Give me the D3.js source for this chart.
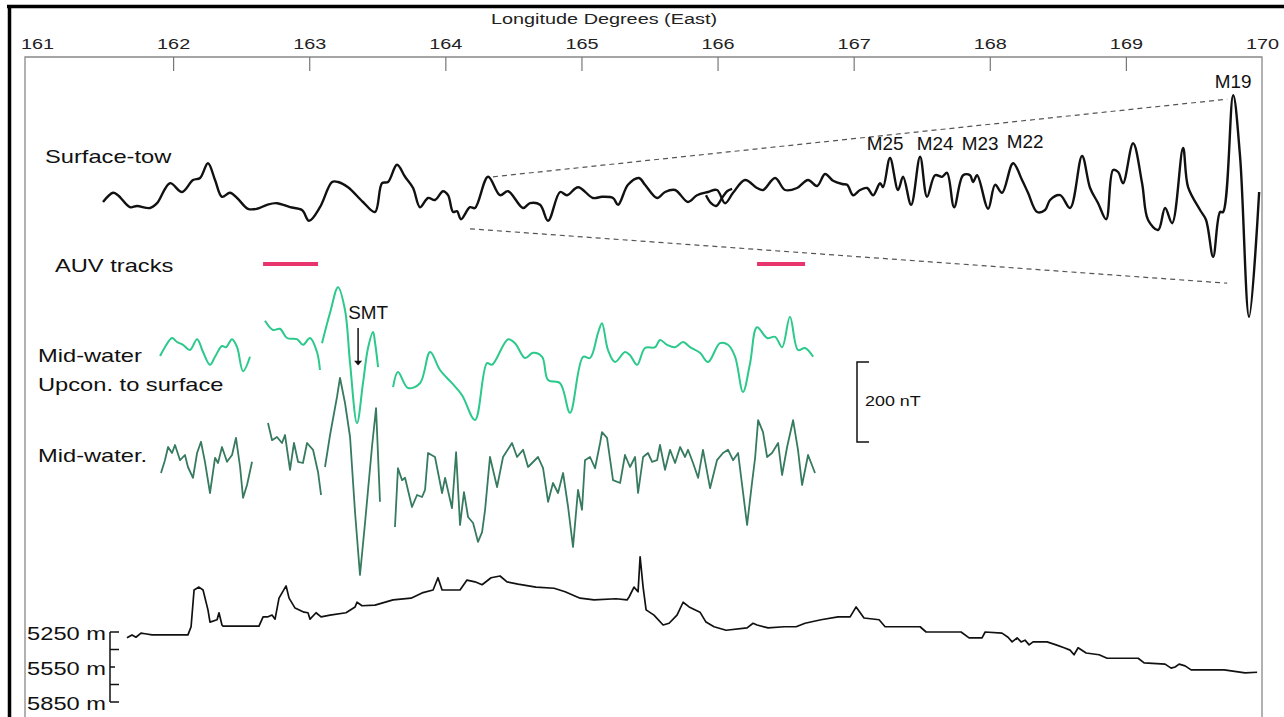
<!DOCTYPE html>
<html>
<head>
<meta charset="utf-8">
<script src="https://cdn.jsdelivr.net/npm/d3@7"></script>
<style>
body { margin: 0; background: #fff; }
svg { display: block; font-family: "Liberation Sans", Arial, sans-serif; }
</style>
</head>
<body>
<svg id="chart" width="1284" height="717"></svg>
<script>
// longitude ticks along the top
var lonTicks = [161, 162, 163, 164, 165, 166, 167, 168, 169, 170];

// surface-tow magnetic anomaly, [longitude, nT]
var surfaceTow = [
[161.485,-5],[161.558,18],[161.595,12],[161.683,-18],[161.735,-15],[161.830,-20],[161.882,-8],[161.977,42],[162.065,20],[162.146,50],[162.198,55],[162.256,92],[162.308,50],[162.359,8],[162.418,18],[162.470,5],[162.550,-22],[162.616,-22],[162.690,-12],[162.763,-8],[162.859,-18],[162.947,-25],[162.999,-52],[163.079,-18],[163.168,45],[163.212,45],[163.285,32],[163.395,-5],[163.483,-30],[163.535,42],[163.579,45],[163.645,88],[163.704,58],[163.763,30],[163.814,-18],[163.873,5],[163.924,0],[163.983,22],[164.020,12],[164.057,-30],[164.086,-28],[164.115,-48],[164.181,-18],[164.218,-20],[164.314,58],[164.402,12],[164.461,22],[164.571,-20],[164.622,-8],[164.696,-12],[164.755,-52],[164.843,20],[164.894,12],[164.975,32],[165.085,5],[165.151,8],[165.232,5],[165.269,-12],[165.342,38],[165.423,55],[165.467,38],[165.556,5],[165.614,20],[165.688,25],[165.783,-5],[165.849,12],[165.930,20],[165.996,25],[166.055,-8],[166.114,18],[166.202,50],[166.290,30],[166.334,25],[166.423,55],[166.496,25],[166.584,30],[166.665,50],[166.731,35],[166.790,65],[166.849,48],[166.915,40],[166.952,38],[166.996,12],[167.047,25],[167.099,30],[167.143,12],[167.194,42],[167.216,32],[167.267,105],[167.326,25],[167.363,58],[167.422,-12],[167.488,108],[167.539,8],[167.598,62],[167.650,58],[167.686,68],[167.738,-18],[167.804,62],[167.855,62],[167.877,45],[167.907,62],[167.988,-22],[168.039,38],[168.090,18],[168.171,92],[168.237,50],[168.281,18],[168.348,-30],[168.406,-25],[168.443,0],[168.517,12],[168.590,-20],[168.678,110],[168.737,30],[168.796,-8],[168.855,-48],[168.906,75],[168.943,70],[168.979,42],[169.053,142],[169.119,42],[169.163,-50],[169.237,-75],[169.288,-20],[169.340,-58],[169.420,130],[169.457,32],[169.545,-25],[169.589,-50],[169.641,-142],[169.692,-30],[169.714,-30],[169.788,262],[169.839,108],[169.905,-292],[169.979,20]
];

// short second pass of the surface-tow near 166 E
var surfaceTowRepeat = [[165.915,12],[165.952,-8],[165.989,-15],[166.033,5],[166.070,22],[166.107,28]];

// mid-water data upward continued to the surface, four pieces
var upconSegments = [
[[161.904,10],[161.940,32],[161.992,55],[162.029,45],[162.073,38],[162.124,25],[162.176,52],[162.220,20],[162.271,-12],[162.308,8],[162.359,35],[162.389,32],[162.433,52],[162.470,32],[162.514,-28],[162.565,8]],
[[162.675,98],[162.734,75],[162.785,78],[162.837,55],[162.910,52],[162.954,38],[163.006,55],[163.057,20],[163.079,-25]],
[[163.094,42],[163.153,118],[163.212,182],[163.263,125],[163.300,-8],[163.351,-158],[163.395,-58],[163.432,30],[163.469,70],[163.483,45],[163.506,-18]],
[[163.616,-68],[163.652,-30],[163.726,-70],[163.814,-58],[163.888,20],[163.961,-25],[164.049,-58],[164.123,-88],[164.218,-150],[164.306,-8],[164.343,-12],[164.461,52],[164.512,42],[164.586,5],[164.644,18],[164.711,8],[164.755,-50],[164.843,-58],[164.916,-132],[165.012,8],[165.063,5],[165.122,68],[165.151,92],[165.195,25],[165.247,-5],[165.320,20],[165.357,12],[165.409,-12],[165.467,30],[165.541,32],[165.577,50],[165.629,38],[165.688,32],[165.747,45],[165.798,32],[165.871,18],[165.930,-5],[166.018,42],[166.077,38],[166.129,8],[166.187,-80],[166.239,-8],[166.290,82],[166.364,55],[166.423,58],[166.474,32],[166.532,108],[166.591,25],[166.643,30],[166.702,8]]
];

// mid-water data, four pieces
var midwaterSegments = [
[[161.911,-20],[161.940,12],[161.963,45],[161.992,30],[162.014,50],[162.051,12],[162.087,25],[162.109,-5],[162.146,-32],[162.176,30],[162.205,58],[162.234,8],[162.271,-70],[162.308,18],[162.330,5],[162.359,45],[162.396,8],[162.433,25],[162.462,68],[162.492,-5],[162.514,-82],[162.543,-50],[162.580,8]],
[[162.697,105],[162.727,62],[162.763,70],[162.800,55],[162.822,75],[162.859,-12],[162.888,55],[162.918,8],[162.954,5],[162.984,55],[163.028,38],[163.065,-18],[163.087,-75]],
[[163.116,-5],[163.153,75],[163.204,170],[163.226,218],[163.263,155],[163.300,70],[163.337,-120],[163.373,-275],[163.410,-145],[163.461,45],[163.491,142],[163.520,-92]],
[[163.630,-155],[163.652,-8],[163.682,-38],[163.704,-32],[163.755,-105],[163.792,-75],[163.829,-80],[163.851,-62],[163.873,30],[163.924,20],[163.976,-70],[163.998,-32],[164.049,-108],[164.079,32],[164.108,-150],[164.137,-68],[164.167,-130],[164.204,-145],[164.240,-192],[164.270,-168],[164.292,-112],[164.328,20],[164.380,-55],[164.424,20],[164.490,55],[164.527,20],[164.571,38],[164.608,-5],[164.681,20],[164.718,-8],[164.755,-92],[164.791,-45],[164.828,-70],[164.865,-20],[164.902,-105],[164.938,-205],[164.975,-62],[165.004,-112],[165.026,12],[165.063,20],[165.100,-8],[165.137,55],[165.151,82],[165.188,68],[165.232,-38],[165.284,-45],[165.320,25],[165.357,-5],[165.394,20],[165.416,-70],[165.453,20],[165.489,30],[165.519,8],[165.556,12],[165.577,50],[165.614,-12],[165.651,38],[165.688,5],[165.725,45],[165.761,20],[165.783,38],[165.820,5],[165.857,-32],[165.893,38],[165.945,-58],[165.996,12],[166.040,30],[166.077,38],[166.114,12],[166.151,30],[166.217,-150],[166.254,-42],[166.276,18],[166.298,112],[166.334,82],[166.364,20],[166.400,30],[166.445,55],[166.474,-25],[166.511,45],[166.555,112],[166.591,38],[166.621,-50],[166.665,25],[166.716,-20]]
];

// bathymetry, [longitude, depth in m]
var bathymetry = [
[161.661,5300],[161.698,5275],[161.727,5295],[161.764,5260],[161.794,5265],[161.845,5275],[162.109,5275],[162.132,5205],[162.154,4890],[162.190,4865],[162.220,4890],[162.256,5060],[162.271,5165],[162.323,5145],[162.337,5085],[162.359,5190],[162.367,5200],[162.631,5200],[162.661,5120],[162.697,5120],[162.727,5105],[162.749,5140],[162.778,4960],[162.830,4855],[162.852,4960],[162.896,5045],[162.962,5080],[162.991,5085],[163.006,5140],[163.050,5085],[163.087,5120],[163.153,5105],[163.270,5085],[163.337,5035],[163.351,4995],[163.388,5025],[163.483,5020],[163.616,4975],[163.748,4960],[163.829,4915],[163.910,4890],[163.946,4785],[163.976,4890],[164.108,4890],[164.159,4805],[164.218,4820],[164.270,4845],[164.336,4785],[164.402,4770],[164.453,4820],[164.534,4840],[164.666,4865],[164.799,4875],[164.880,4905],[164.990,4960],[165.093,4975],[165.254,4965],[165.335,4975],[165.350,4950],[165.386,4865],[165.416,4905],[165.431,4605],[165.453,4865],[165.475,5060],[165.533,5105],[165.600,5190],[165.644,5175],[165.702,5105],[165.747,4995],[165.791,5035],[165.871,5080],[165.915,5165],[165.974,5205],[166.063,5235],[166.217,5215],[166.261,5175],[166.290,5190],[166.371,5215],[166.489,5205],[166.577,5205],[166.643,5175],[166.760,5145],[166.885,5120],[166.974,5120],[167.018,5035],[167.076,5130],[167.187,5145],[167.231,5205],[167.488,5205],[167.532,5250],[167.789,5250],[167.848,5300],[167.943,5300],[167.966,5250],[168.090,5260],[168.134,5295],[168.164,5335],[168.201,5300],[168.230,5335],[168.259,5320],[168.289,5360],[168.318,5335],[168.421,5335],[168.487,5360],[168.546,5385],[168.590,5405],[168.619,5445],[168.649,5385],[168.708,5430],[168.803,5445],[168.862,5475],[169.090,5475],[169.134,5515],[169.288,5525],[169.332,5560],[169.362,5550],[169.391,5525],[169.435,5540],[169.479,5575],[169.722,5575],[169.876,5600],[169.964,5595]
];

// AUV survey tracks, [start lon, end lon]
var auvTracks = [[162.661, 163.065], [166.290, 166.643]];

// dashed envelope on the surface-tow profile
var envelopeUpper = [[164.350, 58], [169.744, 252]];
var envelopeLower = [[164.181, -72], [169.744, -208]];

// magnetic anomaly picks, [name, lon, nT]
var anomalyLabels = [["M25", 167.231, 125], ["M24", 167.598, 125], ["M23", 167.929, 125], ["M22", 168.259, 130], ["M19", 169.788, 280]];

var depthTicks = [5250, 5400, 5550, 5700, 5850];
var depthLabels = [5250, 5550, 5850];

var svg = d3.select("#chart");
var STRETCH = 1.28; // the source figure is stretched sideways

var x = d3.scaleLinear().domain([161, 170]).range([37, 1262]);

// each profile sits on its own baseline, 200 nT = 80 px
function profileScale(base) {
    return d3.scaleLinear().domain([0, 200]).range([base, base - 80]);
}
var ySurface = profileScale(200),
    yUpcon = profileScale(360),
    yMid = profileScale(465);
var yDepth = d3.scaleLinear().domain([5250, 5850]).range([632, 702]);

function label(txt, x0, y0, size, anchor, sx) {
    return svg.append("text")
        .attr("transform", "translate(" + x0 + "," + y0 + ") scale(" + sx + ",1)")
        .attr("font-size", size)
        .attr("text-anchor", anchor)
        .attr("fill", "#111")
        .text(txt);
}

// outer frame
svg.append("line").attr("x1", 7).attr("x2", 1284).attr("y1", 6.5).attr("y2", 6.5)
    .attr("stroke", "#000").attr("stroke-width", 3.5);
svg.append("line").attr("x1", 9.5).attr("x2", 9.5).attr("y1", 5).attr("y2", 717)
    .attr("stroke", "#000").attr("stroke-width", 3.5);

// plot box
svg.append("path")
    .attr("d", "M25,717V57H1262V717")
    .attr("fill", "none").attr("stroke", "#888").attr("stroke-width", 1.3);

// top axis
var axis = d3.axisTop(x).tickValues(lonTicks).tickSize(-14).tickPadding(8).tickFormat(d3.format("d"));
var gAxis = svg.append("g").attr("transform", "translate(0,57)").call(axis)
    .attr("font-family", null).attr("font-size", 15.5);
gAxis.select(".domain").remove();
gAxis.selectAll(".tick line").attr("stroke", "#777").attr("stroke-width", 1.2)
    .filter(function(d) { return d === 161 || d === 170; }).remove();
gAxis.selectAll(".tick text").attr("fill", "#222").attr("transform", "scale(" + STRETCH + ",1)");

label("Longitude Degrees (East)", 604, 24, 15.5, "middle", STRETCH).attr("fill", "#222");

// surface-tow
var envLine = d3.line().x(function(d) { return x(d[0]); }).y(function(d) { return ySurface(d[1]); });
[envelopeUpper, envelopeLower].forEach(function(e) {
    svg.append("path").attr("d", envLine(e))
        .attr("fill", "none").attr("stroke", "#555").attr("stroke-width", 1.2)
        .attr("stroke-dasharray", "5,4");
});

var surfLine = d3.line().curve(d3.curveCatmullRom.alpha(0.5))
    .x(function(d) { return x(d[0]); }).y(function(d) { return ySurface(d[1]); });
[surfaceTow, surfaceTowRepeat].forEach(function(s) {
    svg.append("path").attr("d", surfLine(s))
        .attr("fill", "none").attr("stroke", "#111").attr("stroke-width", 2.4)
        .attr("stroke-linejoin", "round");
});

anomalyLabels.forEach(function(a) {
    label(a[0], x(a[1]), ySurface(a[2]), 18, "middle", 1.05);
});

// AUV tracks
svg.selectAll("line.auv").data(auvTracks).enter().append("line")
    .attr("class", "auv")
    .attr("x1", function(d) { return x(d[0]); })
    .attr("x2", function(d) { return x(d[1]); })
    .attr("y1", 264).attr("y2", 264)
    .attr("stroke", "#e8346c").attr("stroke-width", 4);

// mid-water profiles
var upLine = d3.line().curve(d3.curveCatmullRom.alpha(0.5))
    .x(function(d) { return x(d[0]); }).y(function(d) { return yUpcon(d[1]); });
svg.selectAll("path.upcon").data(upconSegments).enter().append("path")
    .attr("class", "upcon").attr("d", upLine)
    .attr("fill", "none").attr("stroke", "#2bc98b").attr("stroke-width", 2)
    .attr("stroke-linejoin", "round");

var midLine = d3.line()
    .x(function(d) { return x(d[0]); }).y(function(d) { return yMid(d[1]); });
svg.selectAll("path.mid").data(midwaterSegments).enter().append("path")
    .attr("class", "mid").attr("d", midLine)
    .attr("fill", "none").attr("stroke", "#367b5f").attr("stroke-width", 1.8)
    .attr("stroke-linejoin", "round");

// SMT arrow
var smtX = x(163.359);
label("SMT", smtX + 10, yUpcon(102), 18, "middle", 1.05);
svg.append("line").attr("x1", smtX).attr("x2", smtX)
    .attr("y1", yUpcon(80)).attr("y2", yUpcon(-4))
    .attr("stroke", "#111").attr("stroke-width", 1.5);
svg.append("path")
    .attr("d", "M" + (smtX - 4) + "," + yUpcon(-2) + "L" + smtX + "," + yUpcon(-14) + "L" + (smtX + 4) + "," + yUpcon(-2) + "Z")
    .attr("fill", "#111");

// 200 nT scale bar
var barX = 857, barTop = 362, barLen = yUpcon(0) - yUpcon(200);
svg.append("path")
    .attr("d", "M" + (barX + 12) + "," + barTop + "H" + barX + "V" + (barTop + barLen) + "H" + (barX + 12))
    .attr("fill", "none").attr("stroke", "#111").attr("stroke-width", 1.5);
label("200 nT", barX + 8, barTop + 44, 14, "start", STRETCH);

// bathymetry
var bathLine = d3.line()
    .x(function(d) { return x(d[0]); }).y(function(d) { return yDepth(d[1]); });
svg.append("path").attr("d", bathLine(bathymetry))
    .attr("fill", "none").attr("stroke", "#111").attr("stroke-width", 1.7)
    .attr("stroke-linejoin", "round");

// depth scale bar
var dBarX = 110;
svg.append("line").attr("x1", dBarX).attr("x2", dBarX)
    .attr("y1", yDepth(5250)).attr("y2", yDepth(5850))
    .attr("stroke", "#111").attr("stroke-width", 1.5);
svg.selectAll("line.dtick").data(depthTicks).enter().append("line")
    .attr("class", "dtick")
    .attr("x1", dBarX)
    .attr("x2", function(d) { return d === 5550 ? dBarX + 5 : dBarX + 9; })
    .attr("y1", function(d) { return yDepth(d); })
    .attr("y2", function(d) { return yDepth(d); })
    .attr("stroke", "#111").attr("stroke-width", 1.5);
depthLabels.forEach(function(d) {
    label(d + " m", 106, yDepth(d) + 8, 18.5, "end", STRETCH);
});

// profile names
label("Surface-tow", 45, 163, 18.5, "start", STRETCH);
label("AUV tracks", 55, 272, 18.5, "start", STRETCH);
label("Mid-water", 38, 362, 18.5, "start", STRETCH);
label("Upcon. to surface", 38, 391, 18.5, "start", STRETCH);
label("Mid-water.", 38, 462, 18.5, "start", STRETCH);
</script>
</body>
</html>
